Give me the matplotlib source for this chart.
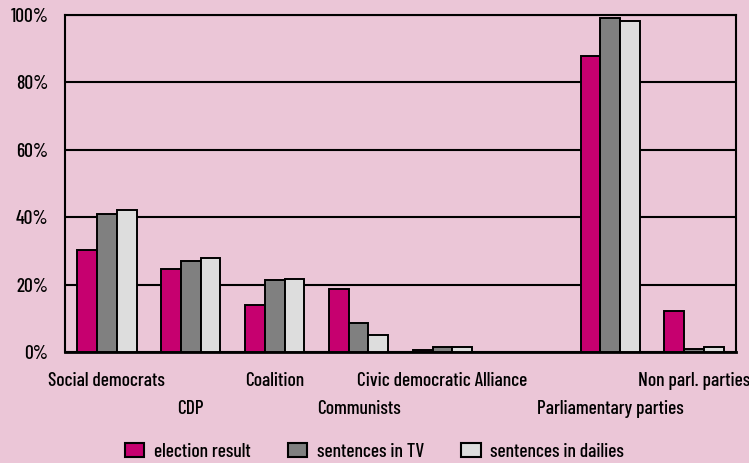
import numpy as np
import matplotlib
matplotlib.use("Agg")
import matplotlib.pyplot as plt
from matplotlib.patches import Patch

plt.rcParams['font.family'] = ['Barlow Condensed', 'Archivo Narrow', 'DejaVu Sans']
plt.rcParams['font.weight'] = 'medium'

categories = ["Social democrats", "CDP", "Coalition", "Communists",
              "Civic democratic Alliance", "", "Parliamentary parties",
              "Non parl. parties"]
election = [30.3, 24.5, 14.0, 18.6, 0.5, 0, 87.8, 12.2]
tv = [40.9, 27.0, 21.5, 8.6, 1.5, 0, 99.2, 0.8]
dailies = [42.1, 27.9, 21.7, 5.1, 1.4, 0, 98.3, 1.6]
series_names = ["election result", "sentences in TV", "sentences in dailies"]
yticks = [0, 20, 40, 60, 80, 100]
label_row = [0, 1, 0, 1, 0, 1, 1, 0]

bg = "#ebc6d7"
colors = ["#c6006f", "#808080", "#dddddd"]
fs = 14

fig = plt.figure(figsize=(7.49, 4.63), dpi=100, facecolor=bg)
ax = fig.add_axes([65 / 749, 1 - 352 / 463, 671 / 749, 337 / 463])
ax.set_facecolor(bg)

x = np.arange(len(categories))
w = 0.235
for i, vals in enumerate([election, tv, dailies]):
    ax.bar(x + (i - 1) * w, vals, width=w, color=colors[i],
           edgecolor="black", linewidth=1.4, zorder=3)

ax.set_xlim(-0.5, len(categories) - 0.5)
ax.set_ylim(0, 100)
ax.set_yticks(yticks)
ax.set_yticklabels([f"{v}%" for v in yticks], fontsize=fs)
ax.tick_params(axis="y", length=0, pad=12)
ax.set_xticks([])
ax.yaxis.grid(True, color="black", linewidth=1.5, zorder=1)
for s in ax.spines.values():
    s.set_linewidth(1.5)
ax.spines["bottom"].set_linewidth(2)

for i, name in enumerate(categories):
    ax.text(i, -8.5 - 8.3 * label_row[i], name, ha="center", va="center",
            fontsize=fs, clip_on=False)

handles = [Patch(facecolor=c, edgecolor="black", linewidth=1.5) for c in colors]
fig.legend(handles, series_names, loc="center", bbox_to_anchor=(0.5, 1 - 452 / 463),
           ncol=3, frameon=False, fontsize=fs, handlelength=1.0, handleheight=0.72,
           handletextpad=0.5, columnspacing=1.9)

fig.savefig("out.png", dpi=100, facecolor=bg)
